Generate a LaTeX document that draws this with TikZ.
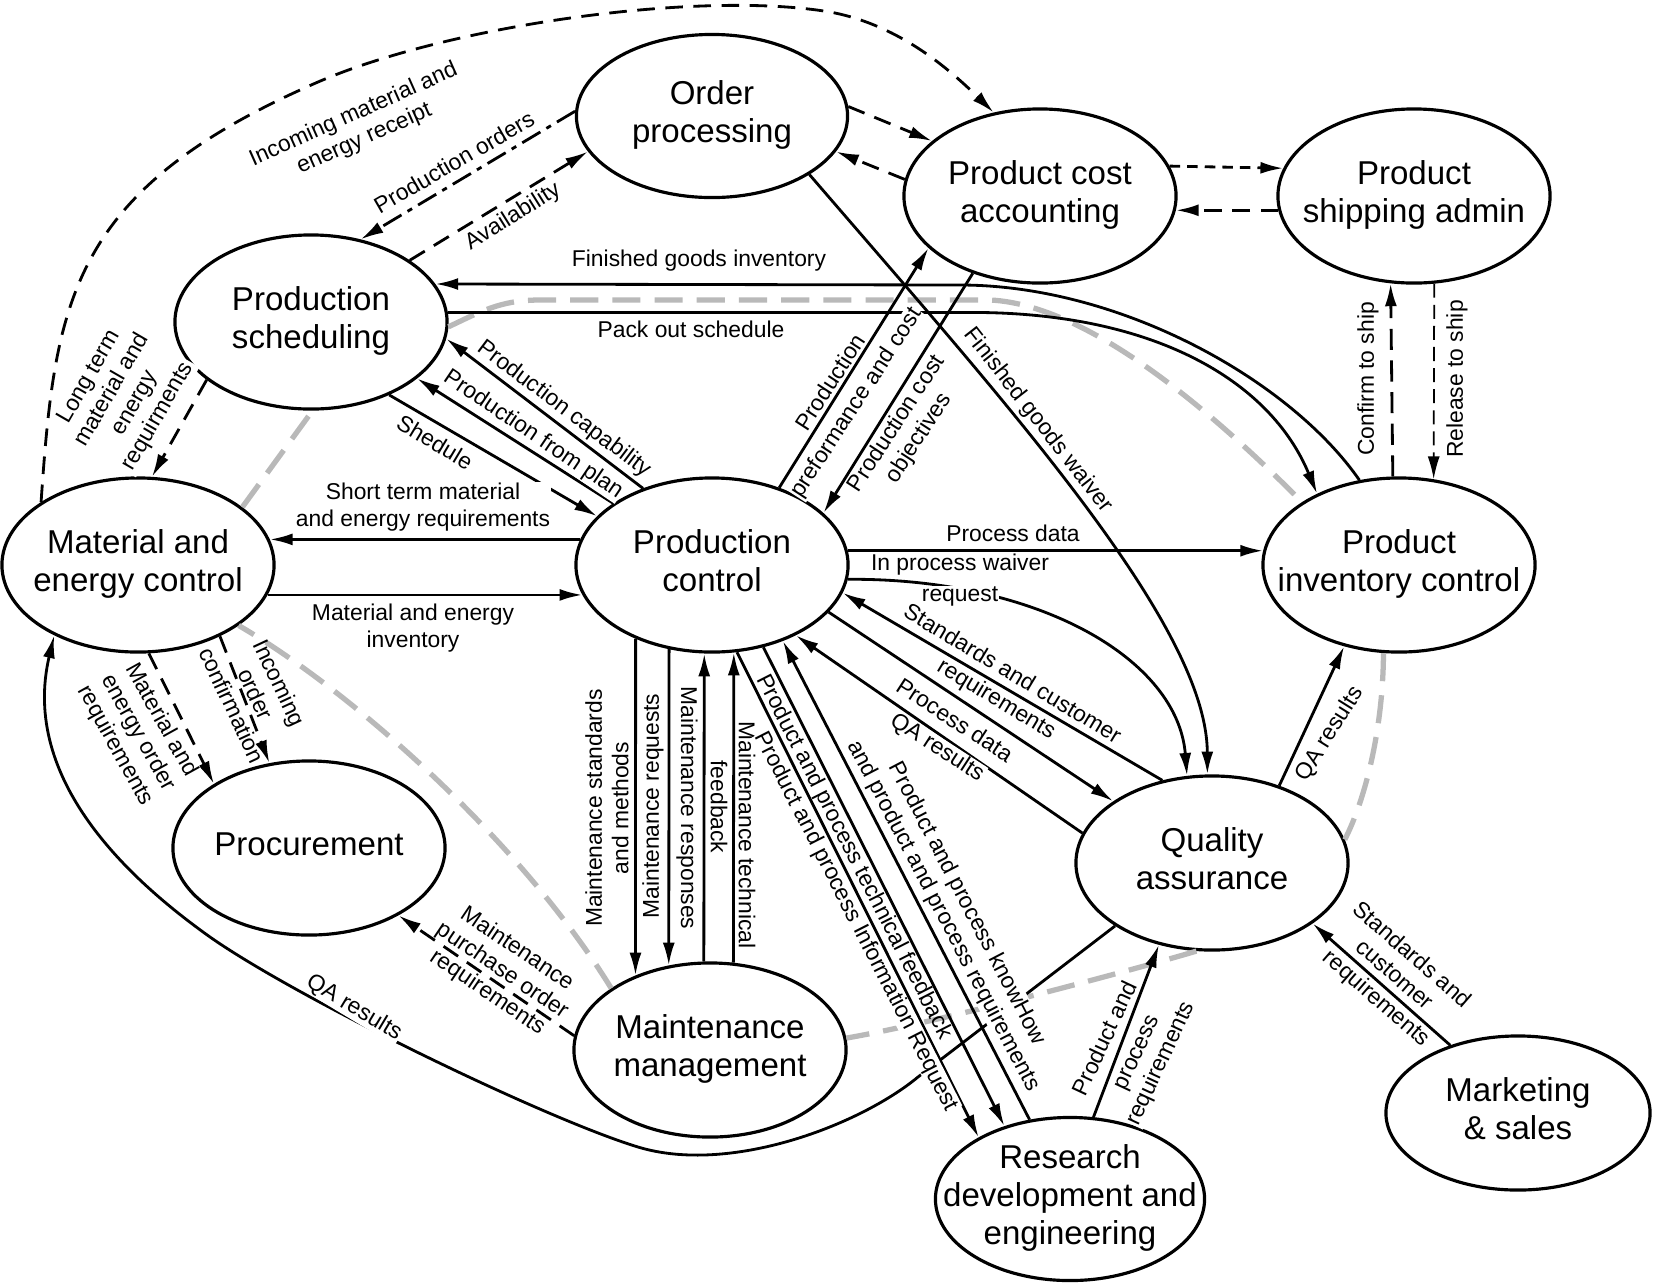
\documentclass[tikz,border=0pt]{standalone}
\usepackage{fontspec}
\setmainfont{Liberation Sans}
\usetikzlibrary{shapes.geometric,arrows.meta}

\newcommand{\ptxt}[1]{\makebox[0pt]{\begin{tabular}{@{}c@{}}#1\end{tabular}}}

\tikzset{
  proc/.style={ellipse, draw, line width=0.9pt, minimum width=2.72cm,
    minimum height=1.74cm, inner sep=0pt, font=\fontsize{9.4}{10.8}\selectfont},
  lbl/.style={font=\fontsize{6.5}{7.5}\selectfont, align=center, inner sep=0.2pt, fill=white},
  lbln/.style={lbl, fill=none},
  flow/.style={line width=0.8pt, -{Latex[length=6.5pt,width=3.4pt]}},
  dflow/.style={flow, dash pattern=on 5pt off 3pt},
  gline/.style={gray!55, line width=1.5pt, dash pattern=on 8pt off 4pt},
}

\begin{document}
\begin{tikzpicture}[x=0.01cm, y=-0.01cm]
\useasboundingbox (0,0) rectangle (1654,1284);

\node[proc, minimum width=2.71cm, minimum height=1.63cm] (op) at (712,116) {\ptxt{Order\\processing}};
\node[proc] (pca) at (1040,196) {\ptxt{Product cost\\accounting}};
\node[proc] (psa) at (1414,196) {\ptxt{Product\\shipping admin}};
\node[proc] (ps) at (311,322) {\ptxt{Production\\scheduling}};
\node[proc] (mec) at (138,565) {\ptxt{Material and\\energy control}};
\node[proc] (pc) at (712,565) {\ptxt{Production\\control}};
\node[proc] (pic) at (1399,565) {\ptxt{Product\\inventory control}};
\node[proc] (pr) at (309,848) {\ptxt{Procurement}};
\node[proc] (mm) at (710,1050) {\ptxt{Maintenance\\management}};
\node[proc] (qa) at (1212,863) {\ptxt{Quality\\assurance}};
\node[proc, minimum width=2.69cm, minimum height=1.63cm] (rde) at (1070,1199) {\ptxt{Research\\development and\\engineering}};
\node[proc, minimum width=2.64cm, minimum height=1.54cm] (ms) at (1518,1113) {\ptxt{Marketing\\\& sales}};

\draw[gline] (ps.-2) .. controls (480,312) and (500,300) .. (540,300) -- (990,300) .. controls (1100,305) and (1240,440) .. (pic.147);
\draw[gline] (pic.-100) .. controls (1383,730) and (1365,800) .. (qa.10);
\draw[gline] (qa.-100) .. controls (1150,965) and (950,1020) .. (mm.5);
\draw[gline] (mm.148) .. controls (520,840) and (350,690) .. (mec.-31);
\draw[gline] (mec.29) -- (ps.-89);

\draw[dflow] (mec.147) .. controls (55,300) and (70,190) .. (318,82) .. controls (450,25) and (700,-10) .. (830,12) .. controls (900,25) and (950,70) .. (pca.119);
\draw[flow, dash pattern=on 6pt off 2pt on 1.5pt off 2pt] (op.178) -- (ps.59);
\draw[dflow] (ps.32) -- (op.-164);
\draw[dflow] (op.4) -- (pca.153);
\draw[dflow] (pca.173) -- (op.-16);
\draw[flow, dash pattern=on 3pt off 2pt] (pca.13) -- (psa.168);
\draw[dflow] (psa.-174) -- (pca.-6);
\draw[dflow, dash pattern=on 6pt off 3pt] (pic.94) -- (psa.-105);
\draw[flow, line width=0.5pt, dash pattern=on 4pt off 2pt] (psa.-77) -- (pic.68);

\draw[flow] (op.-31) .. controls (1007,404) and (1207,625) .. (qa.93);
\draw[flow] (pic.115) .. controls (1290,380) and (1120,285) .. (960,285) -- (ps.17);
\draw[flow] (ps.4) -- ++(524,0) .. controls +(181,0) and (1270,380) .. (pic.139);
\draw[flow] (pc.49) -- (pca.-155);
\draw[flow] (pca.-131) -- (pc.25);
\draw[flow] (pc.132) -- (ps.-7);
\draw[flow] (pc.148) -- (ps.-28);
\draw[flow] (ps.-43) -- (pc.157);
\draw[dflow] (ps.-151) -- (mec.81);
\draw[flow] (pc.169) -- (mec.11);
\draw[flow] (mec.-13) -- (pc.-167);
\draw[dflow] (mec.-83) -- (pr.146);
\draw[dflow] (mec.-41) -- (pr.115);
\draw[dflow] (mm.174) -- (pr.-37);
\draw[flow] (qa.213) -- (918,1077) .. controls (860,1125) and (730,1175) .. (638,1147) .. controls (546,1119) and (300,1000) .. (210,937) .. controls (130,880) and (20,780) .. (mec.-140);

\draw[flow] (pc.6) -- (pic.174);
\draw[flow] (pc.-6) .. controls (1040,578) and (1178,660) .. (qa.106);
\draw[flow] (qa.121) -- (pc.-12);
\draw[flow] (pc.-22) -- (qa.148);
\draw[flow] (qa.167) -- (pc.-40);
\draw[flow] (qa.49) -- (pic.-124);
\draw[flow] (ms.135) -- (qa.-31);
\draw[flow] (rde.74) -- (qa.-123);

\foreach \s/\t in {-136/135, -117/116} \draw[flow] (pc.\s) -- (mm.\t);
\foreach \s/\t in {94/-95, 75/-76} \draw[flow] (mm.\s) -- (pc.\t);
\draw[flow] (pc.-74) -- (rde.146);
\draw[flow] (pc.-58) -- (rde.132);
\draw[flow] (rde.117) -- (pc.-47);

\node[lbl, rotate=24] (t-inc) at (359,127) {Incoming material and\\energy receipt};
\node[lbl, rotate=30] (t-po) at (454,162) {Production orders};
\node[lbl, rotate=32] (t-av) at (513,217) {Availability};
\node[lbl] (t-fgi) at (699,261) {Finished goods inventory};
\node[lbl] (t-pos) at (691,329) {Pack out schedule};
\node[lbl, rotate=57] (t-ppc1) at (830,382) {Production};
\node[lbl, rotate=57] (t-ppc2) at (857,403) {preformance and cost};
\node[lbl, rotate=57] (t-pco) at (908,431) {Production cost\\objectives};
\node[lbl, rotate=-52] (t-fgw) at (1038,420) {Finished goods waiver};
\node[lbl, rotate=90] (t-cs) at (1368,379) {Confirm to ship};
\node[lbl, rotate=90] (t-rs) at (1457,379) {Release to ship};
\node[lbl, rotate=-37] (t-cap) at (564,409) {Production capability};
\node[lbl, rotate=-34] (t-fp) at (533,435) {Production from plan};
\node[lbl, rotate=-31] (t-sh) at (435,442) {Shedule};
\node[lbl, rotate=60] (t-lt) at (124,397) {Long term\\material and\\energy\\requirments};
\node[lbl] (t-st) at (423,507) {Short term material\\and energy requirements};
\node[lbl] (t-mei) at (413,628) {Material and energy\\inventory};
\node[lbl] (t-pd1) at (1013,533) {Process data};
\node[lbl] (t-ipw) at (960,565) {In process waiver};
\node[lbl] (t-req) at (960,596) {request};
\node[lbl, rotate=-61] (t-meo) at (138,733) {Material and\\energy order\\requirements};
\node[lbln, rotate=-65] (t-ioc) at (256,694) {Incoming\\order\\confirmation};
\node[lbl, rotate=-31] (t-qa1) at (354,1008) {QA results};
\node[lbln, rotate=-34] (t-mpo) at (502,971) {Maintenance\\purchase order\\requirements};
\node[lbl, rotate=90] (t-msm) at (607,808) {Maintenance standards\\and methods};
\node[lbl, rotate=90] (t-mrq) at (653,806) {Maintenance requests};
\node[lbl, rotate=-90] (t-mrs) at (687,808) {Maintenance responses};
\node[lbl, rotate=-90] (t-fb) at (719,807) {feedback};
\node[lbl, rotate=-90] (t-mt) at (747,835) {Maintenance technical};
\node[lbln, rotate=-63] (t-tf) at (854,857) {Product and process technical feedback};
\node[lbl, rotate=-63] (t-ir) at (856,922) {Product and process Information Request};
\node[lbl, rotate=-62.5] (t-kh) at (955,910) {Product and process knowHow\\and product and process requirements};
\node[lbl, rotate=-31] (t-sc1) at (1013,673) {Standards and customer};
\node[lbl, rotate=-31] (t-sc2) at (996,700) {requirements};
\node[lbl, rotate=-33] (t-pd2) at (955,720) {Process data};
\node[lbl, rotate=-33] (t-qa2) at (937,748) {QA results};
\node[lbl, rotate=65] (t-pa) at (1104,1038) {Product and};
\node[lbl, rotate=65] (t-pr) at (1151,1059) {process\\requirements};
\node[lbl, rotate=-41] (t-ms1) at (1404,964) {Standards and\\customer};
\node[lbl, rotate=-41] (t-ms2) at (1376,999) {requirements};
\node[lbl, rotate=58] (t-qa3) at (1330,734) {QA results};
\end{tikzpicture}
\end{document}
